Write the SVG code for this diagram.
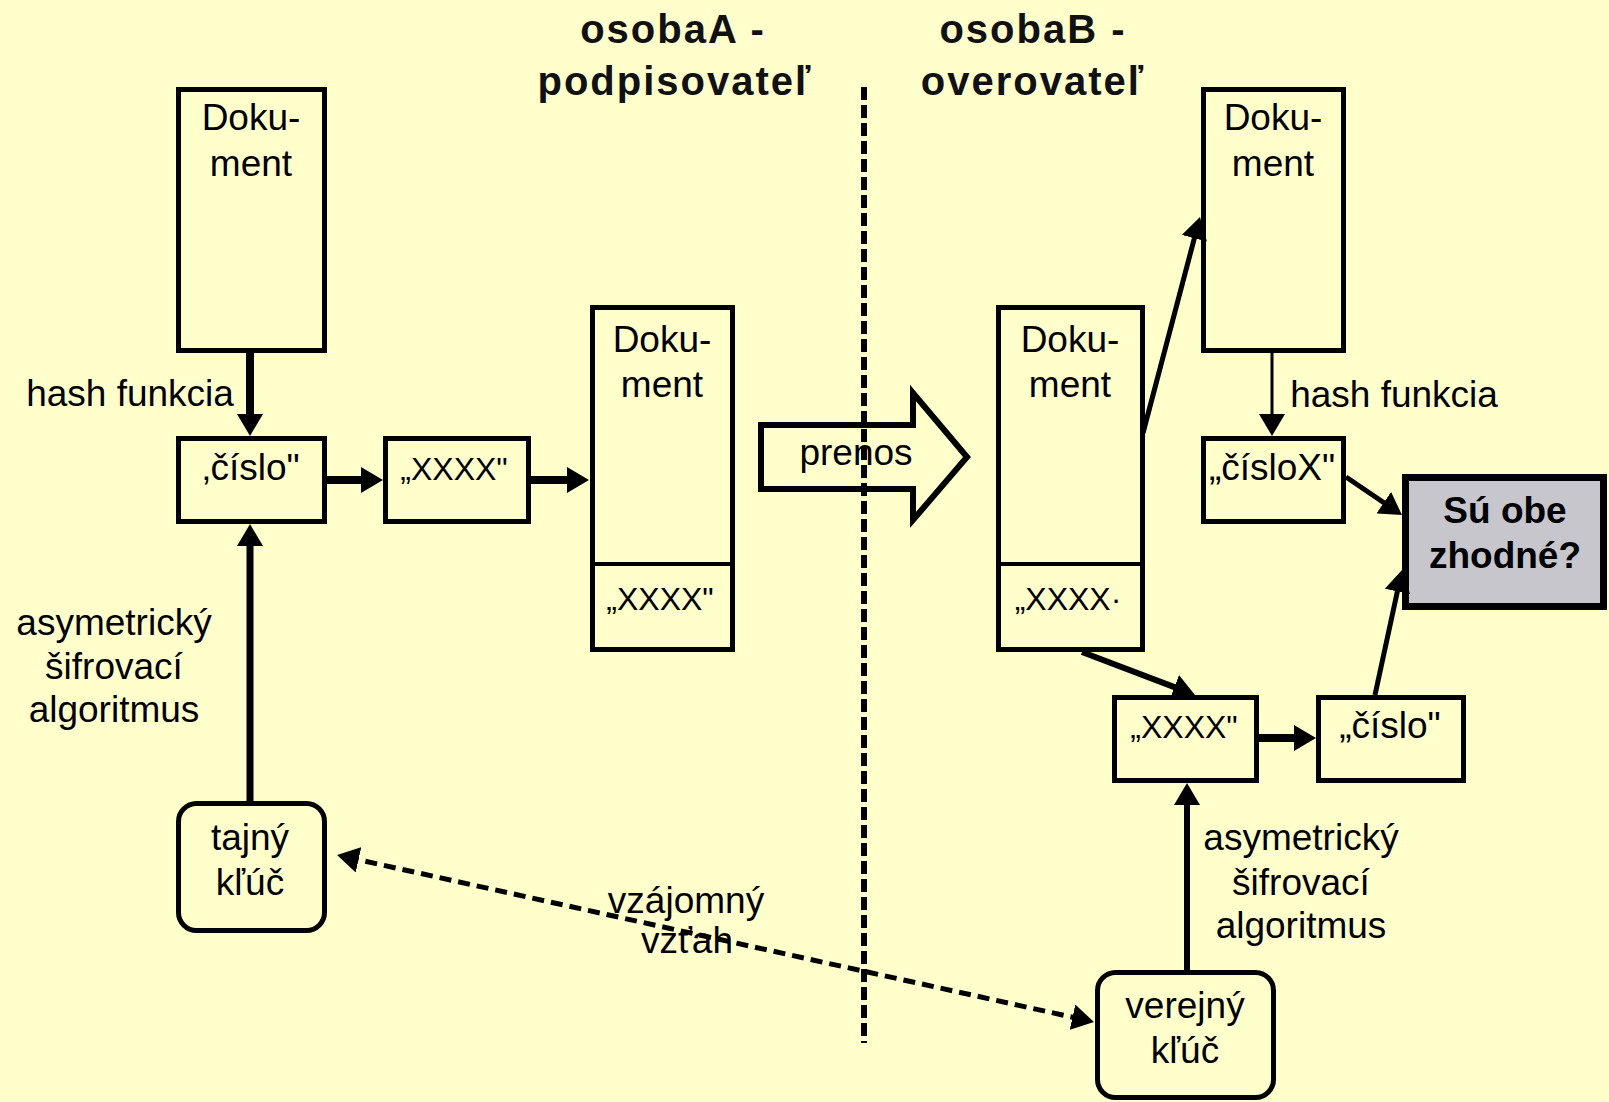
<svg xmlns="http://www.w3.org/2000/svg" width="1609" height="1102" viewBox="0 0 1609 1102">
<style>
.bg{fill:#ffffcc}
.box{fill:#ffffcc;stroke:#000;stroke-width:5}
.t{font-family:"Liberation Sans",Arial,sans-serif;font-size:37px;fill:#000;text-anchor:middle}
.ts{font-family:"Liberation Sans",Arial,sans-serif;font-size:32px;fill:#000;text-anchor:middle}
.title{font-family:"Liberation Sans",Arial,sans-serif;font-size:40px;font-weight:bold;letter-spacing:2px;fill:#111;text-anchor:middle}
.q{font-family:"Liberation Sans",Arial,sans-serif;font-size:37px;font-weight:bold;fill:#000;text-anchor:middle}
.c{fill:none;stroke:#000}
</style>
<defs>
<marker id="ah" viewBox="0 0 22 26" refX="12" refY="13" markerWidth="22" markerHeight="26" markerUnits="userSpaceOnUse" orient="auto-start-reverse">
<path d="M0,0 L22,13 L0,26 z" fill="#000"/>
</marker>
</defs>
<rect class="bg" x="0" y="0" width="1609" height="1102"/>

<g id="titles">
<text class="title" x="673" y="43">osobaA -</text>
<text class="title" x="675" y="95">podpisovateľ</text>
<text class="title" x="1033" y="43">osobaB -</text>
<text class="title" x="1033" y="95">overovateľ</text>
</g>

<g id="prenos">
<polygon points="761,425 913,425 913,393 967,457 913,520 913,489 761,489" fill="#ffffcc" stroke="#000" stroke-width="6" stroke-linejoin="miter"/>
<text class="t" x="856" y="465">prenos</text>
</g>

<g id="separator">
<line x1="864" y1="87" x2="864" y2="1043" stroke="#000" stroke-width="6" stroke-dasharray="13 5"/>
</g>

<g id="doc-a">
<rect class="box" x="178.5" y="89.5" width="146" height="261"/>
<text class="t" x="251" y="130">Doku-</text>
<text class="t" x="251" y="176">ment</text>
</g>

<g id="cislo-a">
<rect class="box" x="178.5" y="438.5" width="146" height="83"/>
<text class="t" x="251" y="480">‚číslo"</text>
</g>

<g id="xxxx-a">
<rect class="box" x="385.5" y="438.5" width="143" height="83"/>
<text class="ts" x="454" y="480">„XXXX"</text>
</g>

<g id="doc-signed">
<rect class="box" x="592.5" y="307.5" width="140" height="342"/>
<line x1="592.5" y1="564" x2="732.5" y2="564" stroke="#000" stroke-width="4"/>
<text class="t" x="662" y="352">Doku-</text>
<text class="t" x="662" y="397">ment</text>
<text class="ts" x="660" y="610">„XXXX"</text>
</g>

<g id="tajny-kluc">
<rect class="box" x="178.5" y="803.5" width="146" height="127" rx="18"/>
<text class="t" x="250" y="850">tajný</text>
<text class="t" x="250" y="895">kľúč</text>
</g>

<g id="doc-received">
<rect class="box" x="998.5" y="307.5" width="144" height="342"/>
<line x1="998.5" y1="564" x2="1142.5" y2="564" stroke="#000" stroke-width="4"/>
<text class="t" x="1070" y="352">Doku-</text>
<text class="t" x="1070" y="397">ment</text>
<text class="ts" x="1068" y="610">„XXXX·</text>
</g>

<g id="doc-b">
<rect class="box" x="1203.5" y="89.5" width="140" height="261"/>
<text class="t" x="1273" y="130">Doku-</text>
<text class="t" x="1273" y="176">ment</text>
</g>

<g id="cislox-b">
<rect class="box" x="1203.5" y="438.5" width="140" height="83"/>
<text class="t" x="1272" y="480">„čísloX"</text>
</g>

<g id="zhodne">
<rect x="1405.5" y="477.5" width="198" height="129" fill="#c6c6cc" stroke="#000" stroke-width="7"/>
<text class="q" x="1505" y="523">Sú obe</text>
<text class="q" x="1505" y="568">zhodné?</text>
</g>

<g id="xxxx-b">
<rect class="box" x="1114.5" y="697.5" width="142" height="83"/>
<text class="ts" x="1184" y="738">„XXXX"</text>
</g>

<g id="cislo-b">
<rect class="box" x="1318.5" y="697.5" width="145" height="83"/>
<text class="t" x="1390" y="738">„číslo"</text>
</g>

<g id="verejny-kluc">
<rect class="box" x="1097.5" y="972.5" width="176" height="125" rx="18"/>
<text class="t" x="1185" y="1018">verejný</text>
<text class="t" x="1185" y="1063">kľúč</text>
</g>

<g id="labels">
<text class="t" x="130" y="406">hash funkcia</text>
<text class="t" x="1394" y="407">hash funkcia</text>
<text class="t" x="114" y="635">asymetrický</text>
<text class="t" x="114" y="679">šifrovací</text>
<text class="t" x="114" y="722">algoritmus</text>
<text class="t" x="1301" y="850">asymetrický</text>
<text class="t" x="1301" y="895">šifrovací</text>
<text class="t" x="1301" y="938">algoritmus</text>
</g>

<g id="connectors">
<line class="c" x1="250" y1="353" x2="250" y2="426" stroke-width="8" marker-end="url(#ah)"/>
<line class="c" x1="250" y1="801" x2="250" y2="534" stroke-width="7" marker-end="url(#ah)"/>
<line class="c" x1="324" y1="480" x2="373" y2="480" stroke-width="8" marker-end="url(#ah)"/>
<line class="c" x1="531" y1="480" x2="579" y2="480" stroke-width="8" marker-end="url(#ah)"/>
<line class="c" x1="1143" y1="433" x2="1197.4" y2="226.7" stroke-width="5" marker-end="url(#ah)"/>
<line class="c" x1="1272" y1="353" x2="1272" y2="426" stroke-width="3" marker-end="url(#ah)"/>
<line class="c" x1="1346" y1="477" x2="1393.7" y2="509.4" stroke-width="5" marker-end="url(#ah)"/>
<line class="c" x1="1082" y1="652" x2="1185.6" y2="691.4" stroke-width="6" marker-end="url(#ah)"/>
<line class="c" x1="1259" y1="738" x2="1306" y2="738" stroke-width="8" marker-end="url(#ah)"/>
<line class="c" x1="1375" y1="695" x2="1399.9" y2="579.8" stroke-width="5" marker-end="url(#ah)"/>
<line class="c" x1="1187" y1="970" x2="1187" y2="793" stroke-width="6" marker-end="url(#ah)"/>
<line class="c" x1="346.8" y1="857.2" x2="1084.2" y2="1019.8" stroke-width="5" stroke-dasharray="12 7" marker-start="url(#ah)" marker-end="url(#ah)"/>
<text class="t" x="686" y="913">vzájomný</text>
<text class="t" x="687" y="953">vzťah</text>
</g>
</svg>
